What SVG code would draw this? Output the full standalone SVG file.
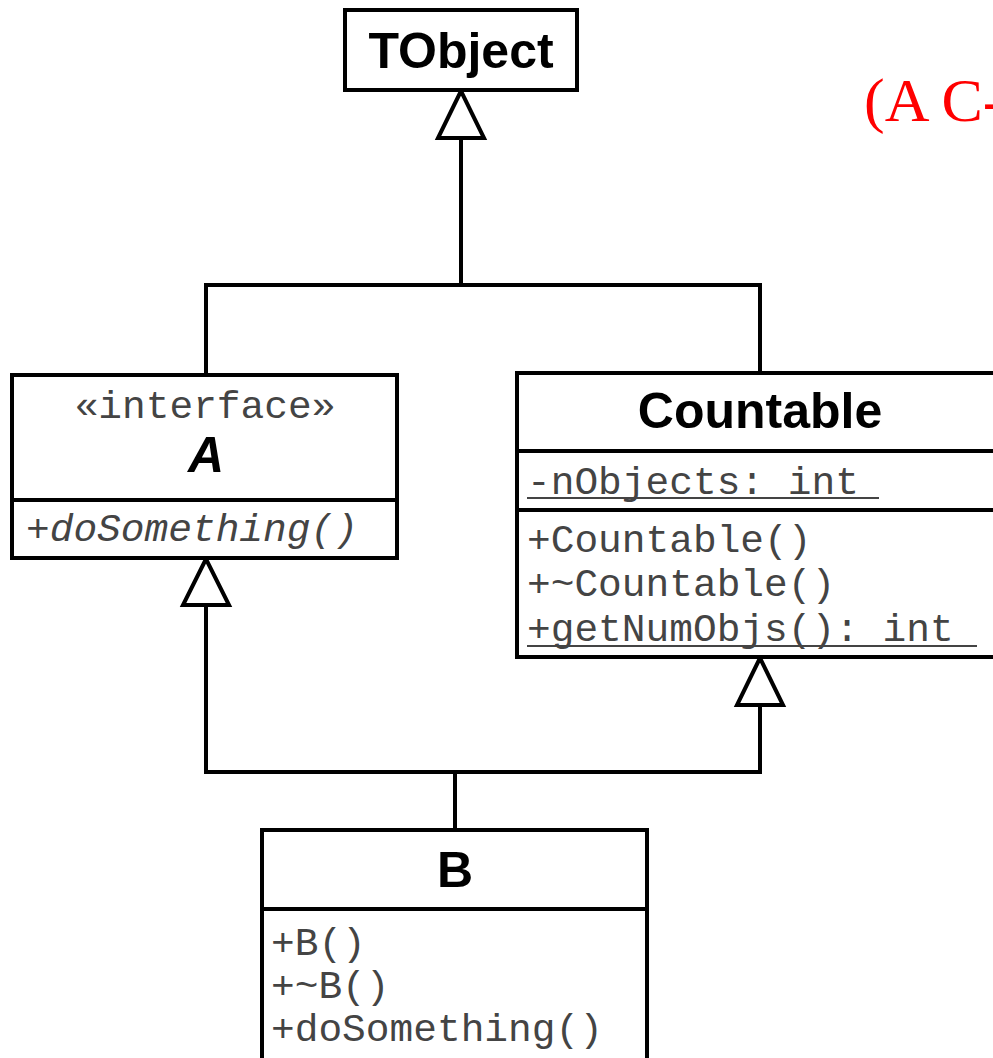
<svg xmlns="http://www.w3.org/2000/svg" width="993" height="1058" viewBox="0 0 993 1058">
<style>
.box{fill:#fff;stroke:#000;stroke-width:4}
.div{stroke:#000;stroke-width:4}
.edge{fill:none;stroke:#000;stroke-width:4}
.tri{fill:#fff;stroke:#000;stroke-width:4;stroke-linejoin:miter}
.title{font-family:"Liberation Sans",Arial,sans-serif;font-weight:bold;font-size:50px;fill:#000;text-anchor:middle}
.mono{font-family:"Liberation Mono","Courier New",monospace;font-size:39.5px;fill:#444}
.ul{stroke:#444;stroke-width:2}
</style>
<rect width="993" height="1058" fill="#fff"/>
<g id="connectors">
<polyline class="edge" points="461,138 461,285"/>
<polyline class="edge" points="206,375 206,285 760,285 760,373"/>
<polyline class="edge" points="206,605 206,772 760,772 760,705"/>
<polyline class="edge" points="455,772 455,830"/>
<polygon class="tri" points="461,91 438,138 484,138"/>
<polygon class="tri" points="206,559 183,605 229,605"/>
<polygon class="tri" points="760,658 737,705 783,705"/>
</g>
<g id="TObject">
<rect class="box" x="345" y="10" width="232" height="80"/>
<text class="title" x="461" y="68">TObject</text>
</g>
<g id="A">
<rect class="box" x="12" y="375" width="385" height="183"/>
<line class="div" x1="12" y1="500" x2="397" y2="500"/>
<text class="mono" x="205" y="418" text-anchor="middle">«interface»</text>
<text class="title" x="206" y="472" font-style="italic" font-size="46">A</text>
<text class="mono" x="26" y="541" font-style="italic">+doSomething()</text>
</g>
<g id="Countable">
<rect class="box" x="517" y="373" width="490" height="284"/>
<line class="div" x1="517" y1="451" x2="1000" y2="451"/>
<line class="div" x1="517" y1="510" x2="1000" y2="510"/>
<text class="title" x="760" y="428">Countable</text>
<text class="mono" x="527" y="494">-nObjects: int</text>
<line class="ul" x1="527" y1="498" x2="879" y2="498"/>
<text class="mono" x="527" y="552">+Countable()</text>
<text class="mono" x="527" y="596">+~Countable()</text>
<text class="mono" x="527" y="641">+getNumObjs(): int</text>
<line class="ul" x1="527" y1="646" x2="977" y2="646"/>
</g>
<g id="B">
<rect class="box" x="262" y="830" width="385" height="240"/>
<line class="div" x1="262" y1="909" x2="647" y2="909"/>
<text class="title" x="455" y="887">B</text>
<text class="mono" x="271" y="955">+B()</text>
<text class="mono" x="271" y="998">+~B()</text>
<text class="mono" x="271" y="1041">+doSomething()</text>
</g>
<text x="864" y="121" font-family="'Liberation Serif','Times New Roman',serif" font-size="62" fill="#f00">(A C-</text>
</svg>
